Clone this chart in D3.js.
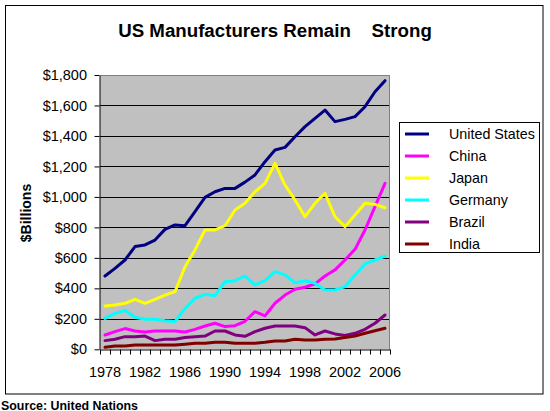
<!DOCTYPE html>
<html>
<head>
<meta charset="utf-8">
<script src="https://cdn.jsdelivr.net/npm/d3@7"></script>
<style>
  html, body { margin: 0; padding: 0; background: #fff; }
  svg { display: block; }
  text { font-family: Arial, "Liberation Sans", sans-serif; }
</style>
</head>
<body>
<svg id="chart" width="550" height="411"></svg>
<script>
const years = d3.range(1978, 2007);
const tickYears = [1978, 1982, 1986, 1990, 1994, 1998, 2002, 2006];
const yTicks = [0, 200, 400, 600, 800, 1000, 1200, 1400, 1600, 1800];

const seriesNames = ["United States", "China", "Japan", "Germany", "Brazil", "India"];
const seriesColors = ["#000080", "#FF00FF", "#FFFF00", "#00FFFF", "#800080", "#800000"];

const unitedStates = [481,531,586,674,685,717,787,816,811,903,997,1034,1056,1056,1097,1144,1231,1308,1325,1395,1461,1516,1570,1494,1509,1527,1592,1690,1763];
const china = [94,116,136,120,114,120,120,120,114,131,153,171,149,155,184,247,219,302,356,394,407,429,481,521,586,656,783,936,1089];
const japan = [284,291,302,328,302,328,356,378,542,652,783,783,811,914,958,1034,1089,1220,1078,980,870,958,1024,870,805,881,958,951,929];
const germany = [203,236,254,210,197,197,188,182,269,335,361,352,444,450,481,422,450,510,488,437,450,433,389,389,411,488,560,586,612];
const brazil = [57,66,83,83,87,57,66,66,77,83,87,120,120,94,85,116,138,153,153,153,142,94,120,101,90,105,131,171,225];
const india = [13,22,22,28,28,28,28,28,33,39,39,46,46,39,39,39,46,55,55,66,61,61,66,68,77,87,105,122,138];

const seriesValues = [unitedStates, china, japan, germany, brazil, india];

const svg = d3.select("#chart");

// outer frame
svg.append("rect").attr("x", 5.5).attr("y", 5.5).attr("width", 537.5).attr("height", 388.5)
  .attr("fill", "#fff").attr("stroke", "#000").attr("stroke-width", 1);

const pLeft = 100, pRight = 390, pTop = 75, pBottom = 349.3;
const x = d3.scaleBand().domain(years).range([pLeft, pRight]);
const xc = d => x(d) + x.bandwidth() / 2;
const y = d3.scaleLinear().domain([0, 1800]).range([pBottom, pTop]);

// plot area
svg.append("rect").attr("x", pLeft).attr("y", pTop).attr("width", pRight - pLeft).attr("height", pBottom - pTop)
  .attr("fill", "#C0C0C0");

// gridlines
svg.append("g").selectAll("line").data(yTicks.filter(v => v > 0 && v < 1800)).join("line")
  .attr("x1", pLeft).attr("x2", pRight)
  .attr("y1", d => Math.round(y(d)) + 0.5).attr("y2", d => Math.round(y(d)) + 0.5)
  .attr("stroke", "#000").attr("stroke-width", 1);

// plot border (top / right)
svg.append("path")
  .attr("d", `M${pLeft},${Math.round(pTop) + 0.5}H${pRight - 0.5}V${pBottom}`)
  .attr("fill", "none").attr("stroke", "#808080").attr("stroke-width", 1);

// lines
const line = d3.line().x((d, i) => xc(years[i])).y(d => y(d));
seriesValues.forEach((vals, k) => {
  svg.append("path").datum(vals).attr("d", line)
    .attr("fill", "none").attr("stroke", seriesColors[k]).attr("stroke-width", 3)
    .attr("stroke-linejoin", "round").attr("stroke-linecap", "round");
});

// y axis
const yAxis = svg.append("g").attr("transform", `translate(${pLeft - 0.5},0)`)
  .call(d3.axisLeft(y).tickValues(yTicks).tickFormat(d => "$" + d3.format(",")(d))
    .tickSize(5).tickPadding(7.5).tickSizeOuter(0));
yAxis.selectAll("text").attr("font-size", "14.5px").attr("fill", "#000")
  .style("font-family", 'Arial, "Liberation Sans", sans-serif');
yAxis.selectAll("line, path").attr("stroke", "#000");

// x axis tick marks at category boundaries
const xb = d3.scaleLinear().domain([0, years.length]).range([pLeft, pRight]);
const xTicksG = svg.append("g").attr("transform", `translate(0,${Math.round(pBottom) + 0.5})`)
  .call(d3.axisBottom(xb).tickValues(d3.range(years.length + 1)).tickFormat("").tickSize(5).tickSizeOuter(0));
xTicksG.selectAll("line, path").attr("stroke", "#000");

// x axis labels
const xLab = svg.append("g").attr("transform", `translate(0,${pBottom})`)
  .call(d3.axisBottom(x).tickValues(tickYears).tickSize(0).tickPadding(17));
xLab.select(".domain").remove();
xLab.selectAll("text").attr("font-size", "14.5px").attr("fill", "#000")
  .style("font-family", 'Arial, "Liberation Sans", sans-serif');

// title
svg.append("text").attr("x", 275).attr("y", 36.5).attr("text-anchor", "middle")
  .attr("font-size", "18.7px").attr("font-weight", "bold").style("white-space", "pre")
  .text("US Manufacturers Remain    Strong");

// y label
svg.append("text").attr("transform", "translate(31,213) rotate(-90)").attr("text-anchor", "middle")
  .attr("font-size", "14px").attr("font-weight", "bold").text("$Billions");

// legend
svg.append("rect").attr("x", 399.5).attr("y", 122.5).attr("width", 140).attr("height", 130)
  .attr("fill", "#fff").attr("stroke", "#000").attr("stroke-width", 1);
const lg = svg.append("g").selectAll("g").data(seriesNames).join("g")
  .attr("transform", (d, i) => `translate(0,${134 + i * 22})`);
lg.append("line").attr("x1", 405).attr("x2", 429).attr("y1", 0).attr("y2", 0)
  .attr("stroke", (d, i) => seriesColors[i]).attr("stroke-width", 3);
lg.append("text").attr("x", 449).attr("y", 5).attr("font-size", "14.3px").text(d => d);

// source
svg.append("text").attr("x", 1).attr("y", 409.5).attr("font-size", "12.4px").attr("font-weight", "bold")
  .text("Source: United Nations");
</script>
</body>
</html>
